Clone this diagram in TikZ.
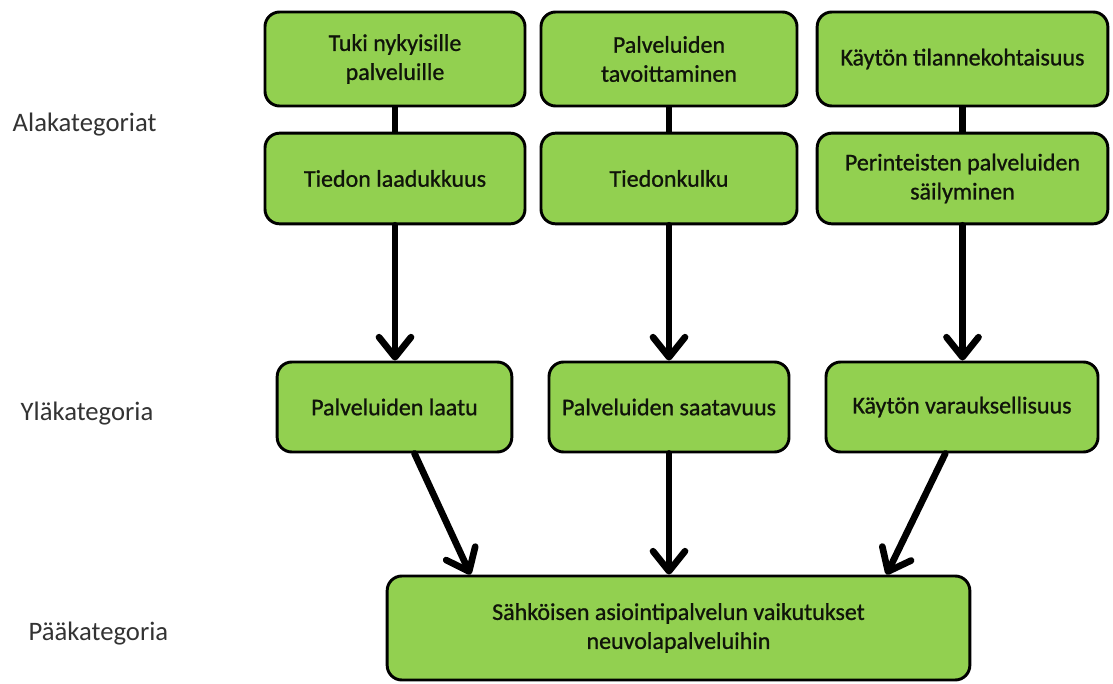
\documentclass[tikz,border=0pt]{standalone}
\usepackage{fontspec}
\setmainfont{Carlito}
\newfontfamily\boxfont[BoldFont={Carlito},BoldFeatures={FakeBold=0.9}]{Carlito}
\usetikzlibrary{arrows.meta}
\definecolor{boxgreen}{HTML}{92D050}
\definecolor{boxtext}{HTML}{10140A}
\definecolor{labtext}{HTML}{333333}
\begin{document}
\begin{tikzpicture}[x=0.75pt,y=-0.75pt,
  box/.style={draw=black, line width=2.2pt, fill=boxgreen, rounded corners=11pt,
    align=center, font=\boxfont\bfseries\fontsize{18}{21.75}\selectfont, inner sep=0pt, text=boxtext},
  conn/.style={line width=5pt},
  arr/.style={line width=5pt, line cap=round,
    -{Straight Barb[length=15pt,width=24pt,round]}},
  lab/.style={anchor=base west, font=\fontsize{20}{24}\selectfont, text=labtext}]
\useasboundingbox (0,0) rectangle (1113,684);

% row 1
\node[box, minimum width=195pt, minimum height=70.5pt] (A1) at (395,59) {Tuki nykyisille\\palveluille};
\node[box, minimum width=192pt, minimum height=70.5pt] (B1) at (669,59) {Palveluiden\\tavoittaminen};
\node[box, minimum width=218pt, minimum height=70.5pt] (C1) at (962.5,59) {Käytön tilannekohtaisuus};
% row 2
\node[box, minimum width=195pt, minimum height=68pt] (A2) at (395,178.5) {Tiedon laadukkuus};
\node[box, minimum width=192pt, minimum height=68pt] (B2) at (669,178.5) {Tiedonkulku};
\node[box, minimum width=218pt, minimum height=68pt] (C2) at (962.5,178.5) {Perinteisten palveluiden\\säilyminen};
% row 3
\node[box, minimum width=176pt, minimum height=67.5pt] (A3) at (394.5,407) {Palveluiden laatu};
\node[box, minimum width=180pt, minimum height=67.5pt] (B3) at (669,407) {Palveluiden saatavuus};
\node[box, minimum width=204pt, minimum height=67.5pt] (C3) at (962,407) {Käytön varauksellisuus};
% bottom
\node[box, minimum width=437pt, minimum height=78pt] (D) at (678.5,628) {Sähköisen asiointipalvelun vaikutukset\\neuvolapalveluihin};

% labels
\node[lab] (L1) at (8,132) {Alakategoriat};
\node[lab] (L2) at (16,420) {Yläkategoria};
\node[lab] (L3) at (24,640) {Pääkategoria};

% connectors
\draw[conn] (A1.south) -- (A2.north);
\draw[conn] (B1.south) -- (B2.north);
\draw[conn] (C1.south) -- (C2.north);

\draw[arr] (A2.south) -- (A2.south |- A3.north);
\draw[arr] (B2.south) -- (B2.south |- B3.north);
\draw[arr] (C2.south) -- (C2.south |- C3.north);

\draw[arr] ([xshift=15pt]A3.south) -- ([xshift=-156pt]D.north);
\draw[arr] (B3.south) -- (B3.south |- D.north);
\draw[arr] ([xshift=-12.5pt]C3.south) -- ([xshift=156pt]D.north);
\end{tikzpicture}
\end{document}
